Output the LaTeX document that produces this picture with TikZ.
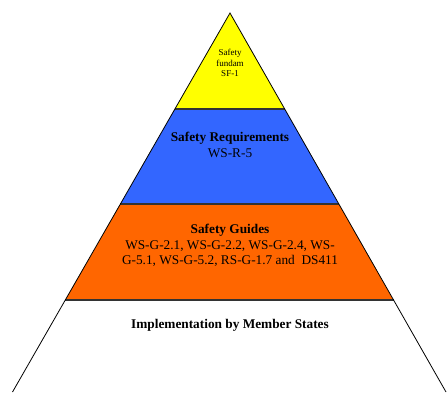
\documentclass[tikz,border=0pt]{standalone}
\usepackage{fontspec}
\setmainfont{Liberation Serif}
\usepackage{tikz}
\usetikzlibrary{calc}
\definecolor{fundyellow}{HTML}{FFFF00}
\definecolor{reqblue}{HTML}{3366FF}
\definecolor{guideorange}{HTML}{FF6600}
\definecolor{sepgrey}{HTML}{333333}

\begin{document}
\begin{tikzpicture}[x=1pt,y=-1pt,
    sep/.style={draw=sepgrey,line width=1.8pt},
    txt/.style={align=center,inner sep=0pt,font=\fontsize{13.3}{15.6}\selectfont}]
    \useasboundingbox (0,0) rectangle (447,392);
    \coordinate(apex) at (230,13);
    \coordinate(bl) at (12.5,392);
    \coordinate(br) at (446,392);
    \coordinate(l1) at ($(apex)!0.2533!(bl)$);
    \coordinate(r1) at ($(apex)!0.2533!(br)$);
    \coordinate(l2) at ($(apex)!0.504!(bl)$);
    \coordinate(r2) at ($(apex)!0.504!(br)$);
    \coordinate(l3) at ($(apex)!0.757!(bl)$);
    \coordinate(r3) at ($(apex)!0.757!(br)$);
    \fill[fundyellow] (apex) -- (l1) -- (r1) -- cycle;
    \fill[reqblue] (l1) -- (l2) -- (r2) -- (r1) -- cycle;
    \fill[guideorange] (l2) -- (l3) -- (r3) -- (r2) -- cycle;
    \draw[sep] (l1) -- (r1);
    \draw[sep] (l2) -- (r2);
    \draw[sep] (l3) -- (r3);
    \draw[line width=0.8pt] (bl) -- (apex) -- (br);
    \node(fund) [align=center,inner sep=0pt,font=\fontsize{9}{10.3}\selectfont] at (230,63) {Safety\\fundam\\SF-1};
    \node(req) [txt] at (230,145) {\textbf{Safety Requirements}\\WS-R-5};
    \node(guide) [txt] at (230,245.7) {\textbf{Safety Guides}\\WS-G-2.1, WS-G-2.2, WS-G-2.4, WS-\\G-5.1, WS-G-5.2, RS-G-1.7 and\ \ DS411};
    \node(impl) [txt,anchor=base] at (230,328) {\textbf{Implementation by Member States}};
  \end{tikzpicture}
\end{document}
